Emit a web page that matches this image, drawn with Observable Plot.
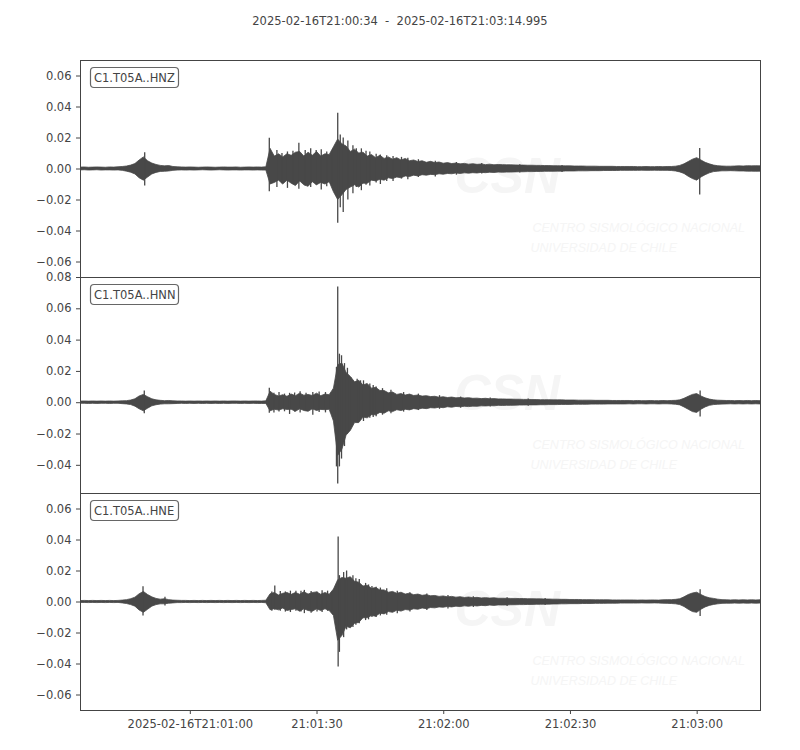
<!DOCTYPE html>
<html>
<head>
<meta charset="utf-8">
<script src="https://cdn.jsdelivr.net/npm/d3@7"></script>
<script src="https://cdn.jsdelivr.net/npm/@observablehq/plot@0.6"></script>
<style>
  body { margin: 0; background: white; }
  #chart { position: relative; width: 800px; height: 750px; }
  #chart svg { display: block; background: transparent !important; overflow: visible; }
  #title {
    position: absolute; left: 0; top: 14px; width: 800px; text-align: center;
    font: 11.5px "DejaVu Sans", sans-serif; color: #444; white-space: pre;
  }
</style>
</head>
<body>
<div id="chart">
  <div id="title">2025-02-16T21:00:34  -  2025-02-16T21:03:14.995</div>
</div>
<script>
// trace window
const startTime = Date.UTC(2025, 1, 16, 21, 0, 34);
const endTime = startTime + 160995;
const sampleStep = 1; // seconds between envelope samples
const unit = 1e-3;    // envelope values below are in 1e-3

const channels = ["C1.T05A..HNZ", "C1.T05A..HNN", "C1.T05A..HNE"];

// upper / lower envelope (depth below zero), one value per second
const hnzHi = [
  0.9,1.0,0.8,0.9,1.0,0.9,0.8,1.0,0.9,1.1,
  1.3,1.6,2.2,3.2,5.5,7.5,5.0,3.5,2.6,2.0,
  1.7,1.9,1.3,1.1,1.0,0.9,1.0,0.9,0.8,0.9,
  1.0,0.9,0.8,0.9,1.0,0.9,0.9,1.0,0.8,0.9,
  1.0,0.9,1.0,0.9,1.1,13.0,8.0,9.5,7.5,9.5,
  8.5,10.5,11.0,8.0,10.5,8.5,11.0,8.0,9.5,9.0,
  14.0,19.0,16.0,14.5,11.0,12.5,10.0,10.5,8.0,9.0,
  7.0,8.5,6.5,7.5,6.0,7.0,5.5,6.5,5.0,5.5,
  4.5,5.0,4.0,4.6,3.8,4.2,3.4,3.8,3.2,3.5,
  3.0,3.3,2.8,3.1,2.7,2.9,2.5,2.8,2.4,2.6,
  2.5,2.4,2.4,2.3,2.2,2.2,2.1,2.1,2.0,2.0,
  1.9,1.9,1.8,1.8,1.7,1.7,1.7,1.6,1.6,1.6,
  1.5,1.5,1.5,1.4,1.4,1.4,1.4,1.3,1.3,1.3,
  1.3,1.3,1.2,1.2,1.3,1.2,1.2,1.3,1.2,1.3,
  1.3,1.5,2.0,3.0,4.5,6.0,7.0,5.5,4.0,3.0,
  2.2,1.8,1.6,1.5,1.5,1.6,1.7,1.6,1.8,1.7,1.8,1.7
];
const hnzLo = [
  0.9,0.8,1.0,0.9,0.8,1.0,0.9,0.9,1.0,0.9,
  1.2,1.7,2.4,3.5,6.0,7.5,5.5,3.5,2.5,1.9,
  1.8,1.6,1.2,1.0,0.9,1.0,0.9,1.0,0.9,0.8,
  0.9,1.0,0.9,0.8,0.9,1.0,0.9,0.9,1.0,0.9,
  0.9,1.0,0.9,1.0,1.0,10.0,9.0,7.5,10.0,7.5,
  9.5,11.0,8.0,10.5,11.5,8.5,10.5,9.0,10.0,8.5,
  15.0,20.0,17.0,13.5,12.0,10.5,12.0,9.5,9.5,7.5,
  8.0,7.0,7.5,6.0,6.5,5.5,6.0,4.8,5.2,4.3,
  4.8,4.0,4.3,3.8,4.0,3.4,3.7,3.2,3.4,2.9,
  3.2,2.8,3.0,2.7,2.9,2.5,2.7,2.4,2.6,2.3,
  2.4,2.3,2.3,2.2,2.1,2.1,2.0,2.0,1.9,1.9,
  1.8,1.8,1.8,1.7,1.7,1.6,1.6,1.6,1.5,1.5,
  1.5,1.4,1.4,1.4,1.3,1.3,1.3,1.3,1.2,1.2,
  1.2,1.2,1.2,1.1,1.2,1.2,1.1,1.2,1.2,1.2,
  1.3,1.6,2.2,3.2,5.0,6.5,7.5,5.5,4.0,2.8,
  2.0,1.7,1.5,1.5,1.4,1.5,1.6,1.6,1.7,1.7,1.8,1.7
];
const hnnHi = [
  0.7,0.8,0.7,0.8,0.7,0.8,0.7,0.8,0.7,0.8,
  0.9,1.0,1.4,2.2,4.0,5.0,3.5,2.2,1.5,1.2,
  1.0,1.1,0.9,0.8,0.8,0.7,0.8,0.7,0.8,0.7,
  0.8,0.7,0.8,0.7,0.8,0.7,0.8,0.8,0.7,0.8,
  0.7,0.8,0.8,0.7,0.9,7.0,5.0,4.0,4.8,3.8,
  5.2,4.2,5.8,4.5,5.0,4.3,5.8,4.2,5.2,4.8,
  9.0,24.0,25.0,19.0,16.5,13.0,14.0,11.0,12.0,9.0,
  9.5,7.5,7.5,6.0,6.5,5.0,5.5,4.6,5.2,4.3,
  4.6,3.9,4.2,3.6,3.8,3.2,3.5,3.0,3.3,2.8,
  3.0,2.7,2.9,2.5,2.6,2.3,2.5,2.2,2.3,2.1,
  2.1,2.0,2.0,1.9,1.9,1.8,1.8,1.7,1.7,1.6,
  1.6,1.6,1.5,1.5,1.5,1.4,1.4,1.4,1.3,1.3,
  1.3,1.3,1.2,1.2,1.2,1.2,1.1,1.1,1.1,1.1,
  1.1,1.0,1.1,1.0,1.0,1.1,1.0,1.0,1.1,1.0,
  1.1,1.2,1.5,2.5,3.8,5.0,5.5,4.0,2.8,2.0,
  1.5,1.3,1.2,1.1,1.1,1.0,1.1,1.0,1.1,1.0,1.1,1.0
];
const hnnLo = [
  0.7,0.7,0.8,0.7,0.8,0.7,0.7,0.8,0.7,0.7,
  0.9,1.1,1.5,2.5,4.2,5.5,3.8,2.3,1.6,1.2,
  1.0,1.0,0.9,0.8,0.7,0.8,0.7,0.8,0.7,0.8,
  0.7,0.8,0.7,0.8,0.7,0.8,0.7,0.7,0.8,0.7,
  0.8,0.7,0.8,0.8,0.8,5.5,4.5,5.0,4.2,4.6,
  4.5,5.8,4.2,5.3,5.8,4.2,5.3,4.6,4.8,4.5,
  12.0,34.0,30.0,21.0,18.0,13.0,13.0,9.5,10.0,8.0,
  8.0,6.5,7.0,5.5,6.0,4.8,5.3,4.5,4.9,4.1,
  4.5,3.8,4.1,3.5,3.7,3.2,3.5,2.9,3.2,2.7,
  2.9,2.6,2.8,2.5,2.6,2.3,2.4,2.2,2.3,2.0,
  2.1,2.0,2.0,1.9,1.8,1.8,1.7,1.7,1.7,1.6,
  1.6,1.5,1.5,1.5,1.4,1.4,1.4,1.3,1.3,1.3,
  1.3,1.2,1.2,1.2,1.2,1.1,1.1,1.1,1.1,1.1,
  1.0,1.1,1.0,1.0,1.1,1.0,1.0,1.1,1.0,1.0,
  1.1,1.3,1.7,3.0,4.5,6.0,6.5,4.5,3.0,2.0,
  1.5,1.3,1.2,1.1,1.0,1.1,1.0,1.1,1.0,1.1,1.0,1.1
];
const hneHi = [
  0.6,0.7,0.6,0.7,0.6,0.7,0.6,0.7,0.6,0.7,
  0.9,1.2,1.8,2.8,5.0,6.5,4.5,3.0,2.0,1.5,
  1.8,1.2,0.9,0.8,0.7,0.7,0.6,0.7,0.6,0.7,
  0.6,0.7,0.6,0.7,0.6,0.7,0.6,0.7,0.6,0.7,
  0.6,0.7,0.6,0.7,0.8,5.0,5.8,4.2,5.3,5.8,
  4.6,5.8,4.7,6.3,4.8,5.8,6.2,4.7,5.8,4.7,
  8.0,14.0,15.5,15.0,16.0,13.0,12.5,10.0,10.5,8.5,
  9.0,7.5,7.5,6.0,6.5,5.3,6.0,4.8,5.4,4.4,
  4.8,4.0,4.4,3.7,3.9,3.3,3.6,3.0,3.3,2.8,
  3.1,2.6,2.9,2.5,2.7,2.3,2.5,2.2,2.4,2.1,
  2.1,2.1,2.0,2.0,1.9,1.9,1.8,1.8,1.7,1.7,
  1.6,1.6,1.5,1.5,1.4,1.4,1.3,1.3,1.3,1.2,
  1.2,1.2,1.1,1.1,1.1,1.1,1.0,1.0,1.0,1.0,
  1.0,1.0,0.9,1.0,0.9,1.0,1.0,0.9,1.1,1.2,
  1.2,1.4,1.8,3.0,4.5,5.5,6.0,4.5,3.2,2.4,
  2.0,1.5,1.2,1.1,1.0,1.1,1.0,1.1,1.0,1.1,1.0,1.1
];
const hneLo = [
  0.6,0.6,0.7,0.6,0.7,0.6,0.7,0.6,0.7,0.6,
  0.9,1.3,2.0,3.0,5.5,7.0,5.0,3.0,2.0,1.5,
  1.5,1.1,0.9,0.7,0.7,0.6,0.7,0.6,0.7,0.6,
  0.7,0.6,0.7,0.6,0.7,0.6,0.7,0.6,0.7,0.6,
  0.7,0.6,0.7,0.6,0.8,5.3,4.6,5.4,4.2,5.8,
  5.2,4.7,6.3,4.7,5.8,6.3,4.7,5.8,4.7,5.8,
  9.0,25.0,22.0,16.0,17.0,14.0,13.5,10.5,10.5,9.0,
  9.5,7.5,8.0,6.5,7.0,5.6,6.2,5.2,5.5,4.7,
  5.0,4.2,4.6,3.9,4.1,3.5,3.7,3.2,3.5,3.0,
  3.3,2.8,3.1,2.6,2.9,2.5,2.7,2.3,2.5,2.2,
  2.3,2.2,2.1,2.1,2.0,2.0,1.9,1.9,1.8,1.8,
  1.7,1.7,1.6,1.6,1.5,1.5,1.4,1.4,1.4,1.3,
  1.3,1.3,1.2,1.2,1.2,1.1,1.1,1.1,1.0,1.0,
  1.0,1.0,1.0,0.9,1.0,1.0,0.9,1.0,1.1,1.2,
  1.3,1.5,2.0,3.2,5.0,6.5,7.0,5.0,3.5,2.5,
  1.9,1.5,1.2,1.1,1.1,1.0,1.1,1.0,1.1,1.0,1.1,1.0
];

// individual swings that stick out of the envelope (seconds after start, peak, trough)
const hnzSpikeT  = [15.2, 44.7, 46.5, 47.7, 49, 50.3, 51.7, 53.2, 54.5, 55.8, 57, 58.3, 59.5, 60.9, 61.5, 62.2, 63.3, 64.5, 65.3, 66.5, 67.6, 68.5, 70, 71, 72.5, 74, 76, 77.5, 80, 84, 89, 95, 104, 114, 146.6];
const hnzSpikeHi = [10.5, 19.8, 12, 10, 11, 11.5, 16.6, 12, 13, 12, 12.5, 11, 11.5, 36, 22, 20, 18, 15, 13, 13, 11.5, 11, 9.5, 9, 8.5, 8, 7.5, 7, 6, 5, 4.2, 3.5, 2.8, 2.3, 13.3];
const hnzSpikeLo = [11, 14.6, 12, 9.5, 12.5, 10, 13, 11, 12, 10.5, 13.5, 11.5, 10, 35, 25, 28, 20, 16, 12, 14, 10.5, 11, 9, 10, 8, 8, 6.5, 7, 5.5, 5.2, 4, 3.2, 2.5, 2.2, 16.8];

const hnnSpikeT  = [15.1, 44.7, 45.8, 47, 48.3, 49.5, 50.7, 52, 53.4, 55, 56.5, 58, 59.2, 60.6, 60.9, 61.3, 61.8, 62.5, 63.2, 64, 65.5, 66.3, 67, 68.5, 69.3, 70, 71.5, 73.5, 76.5, 80, 85, 90, 97, 106, 146.7];
const hnnSpikeHi = [7.5, 9.2, 6, 6.5, 5.5, 6, 6.2, 7, 6, 6.5, 6.8, 6.5, 6, 22.6, 74, 31, 30, 25, 22, 16, 15, 14, 14, 12, 11, 10, 9, 8, 6.5, 5.5, 4.5, 3.6, 3, 2.4, 7.5];
const hnnSpikeLo = [7, 6.8, 6.5, 6, 5.8, 7.5, 6, 6.5, 5.5, 8, 6.2, 6.5, 6.5, 41, 52, 41, 36, 28, 20, 14, 13, 11, 12, 10, 9.5, 9, 8, 7, 6, 5, 4.2, 3.5, 2.8, 2.3, 9.2];

const hneSpikeT  = [14.8, 20, 45.3, 46, 47.3, 48.5, 49.7, 51, 52.2, 53, 54.6, 56, 57.2, 58.5, 59.5, 61, 61.3, 62.3, 63, 64.5, 65.2, 66, 67.5, 68.2, 69, 70, 71, 72.5, 75, 78, 82, 87, 93, 101, 110, 146.7];
const hneSpikeHi = [9.8, 3, 6.5, 10.3, 6.8, 6.5, 7, 7, 7, 7.5, 6.8, 6.5, 7.2, 7, 6.5, 42, 17, 19, 20, 17, 15, 14.5, 12, 11, 10, 9.5, 9, 8.5, 7, 6, 5.2, 4.2, 3.4, 2.8, 2.2, 7.9];
const hneSpikeLo = [9, 2.5, 6, 5.3, 6, 6.5, 6.8, 6, 6.5, 7.5, 7.2, 6.5, 6.8, 6, 6.5, 42, 32.5, 23, 18, 16.5, 15, 14, 12, 11.5, 10, 10, 9, 8.5, 7.5, 6.5, 5.5, 4.5, 3.6, 2.9, 2.3, 9.4];

// axis ticks
const hnzTicks = [-0.06, -0.04, -0.02, 0, 0.02, 0.04, 0.06];
const hnnTicks = [-0.04, -0.02, 0, 0.02, 0.04, 0.06, 0.08];
const hneTicks = [-0.06, -0.04, -0.02, 0, 0.02, 0.04, 0.06];
const xTickTimes = ["2025-02-16T21:01:00Z", "2025-02-16T21:01:30Z", "2025-02-16T21:02:00Z", "2025-02-16T21:02:30Z", "2025-02-16T21:03:00Z"];
const xTickLabels = ["2025-02-16T21:01:00", "21:01:30", "21:02:00", "21:02:30", "21:03:00"];

const ink = "#484848";
const textColor = "#444";
const faint = "#f5f5f5";

function envelope(hi, lo) {
  return hi.map((h, i) => ({
    time: new Date(startTime + i * sampleStep * 1000),
    hi: h * unit,
    lo: -lo[i] * unit
  }));
}

function spikes(t, hi, lo) {
  return t.map((s, i) => ({
    time: new Date(startTime + s * 1000),
    hi: hi[i] * unit,
    lo: -lo[i] * unit
  }));
}

// rounded label box in the top-left corner
function channelTag(name) {
  return (index, scales, values, dims) => {
    const g = d3.create("svg:g");
    g.append("rect")
      .attr("x", dims.marginLeft + 10.5).attr("y", dims.marginTop + 7.5)
      .attr("width", 88).attr("height", 20).attr("rx", 3.5)
      .attr("fill", "white").attr("stroke", "#666").attr("stroke-width", 1.2);
    g.append("text")
      .attr("x", dims.marginLeft + 14).attr("y", dims.marginTop + 21.5)
      .attr("text-anchor", "start")
      .attr("fill", textColor).attr("font-size", 11.5)
      .text(name);
    return g.node();
  };
}

// faint agency logo behind each trace
function watermark() {
  return [
    Plot.text(["CSN"], {frameAnchor: "top-left", dx: 374, dy: 116, fontSize: 50, fontFamily: "Liberation Sans", fontStyle: "italic", fontWeight: "bold", fill: faint, textAnchor: "start", lineAnchor: "middle"}),
    Plot.text(["CENTRO SISMOLÓGICO NACIONAL"], {frameAnchor: "top-left", dx: 452, dy: 163, fontSize: 12.5, fontFamily: "Liberation Sans", fontStyle: "italic", fill: faint, textAnchor: "start"}),
    Plot.text(["UNIVERSIDAD DE CHILE"], {frameAnchor: "top-left", dx: 450, dy: 183, fontSize: 12.5, fontFamily: "Liberation Sans", fontStyle: "italic", fill: faint, textAnchor: "start"})
  ];
}

function panel({name, env, spk, domain, ticks, height, marginTop, marginBottom, showX}) {
  return Plot.plot({
    width: 800,
    height,
    marginLeft: 80,
    marginRight: 40,
    marginTop,
    marginBottom,
    style: {fontFamily: "DejaVu Sans", fontSize: "11.5px", color: textColor, background: "transparent", overflow: "visible"},
    x: {type: "utc", domain: [new Date(startTime), new Date(endTime)]},
    y: {domain},
    marks: [
      ...watermark(),
      Plot.areaY(env, {x: "time", y1: "lo", y2: "hi", fill: ink, stroke: ink, strokeWidth: 0.8, clip: true}),
      Plot.ruleX(spk, {x: "time", y1: "lo", y2: "hi", stroke: ink, strokeWidth: 1.3, clip: true}),
      Plot.axisY({ticks, tickFormat: d3.format(".2f"), tickSize: 4, tickPadding: 5, label: null, stroke: textColor}),
      showX
        ? Plot.axisX({ticks: xTickTimes.map((d) => new Date(d)), tickFormat: (d, i) => xTickLabels[i], tickSize: 4, tickPadding: 5, label: null, stroke: textColor})
        : Plot.axisX({ticks: []}),
      Plot.frame({stroke: "#444"}),
      channelTag(name)
    ]
  });
}

const chart = document.getElementById("chart");
chart.appendChild(panel({name: channels[0], env: envelope(hnzHi, hnzLo), spk: spikes(hnzSpikeT, hnzSpikeHi, hnzSpikeLo),
  domain: [-0.07, 0.07], ticks: hnzTicks, height: 277, marginTop: 60, marginBottom: 0, showX: false}));
chart.appendChild(panel({name: channels[1], env: envelope(hnnHi, hnnLo), spk: spikes(hnnSpikeT, hnnSpikeHi, hnnSpikeLo),
  domain: [-0.058, 0.08], ticks: hnnTicks, height: 216, marginTop: 0, marginBottom: 0, showX: false}));
chart.appendChild(panel({name: channels[2], env: envelope(hneHi, hneLo), spk: spikes(hneSpikeT, hneSpikeHi, hneSpikeLo),
  domain: [-0.07, 0.07], ticks: hneTicks, height: 257, marginTop: 0, marginBottom: 40, showX: true}));
</script>
</body>
</html>
